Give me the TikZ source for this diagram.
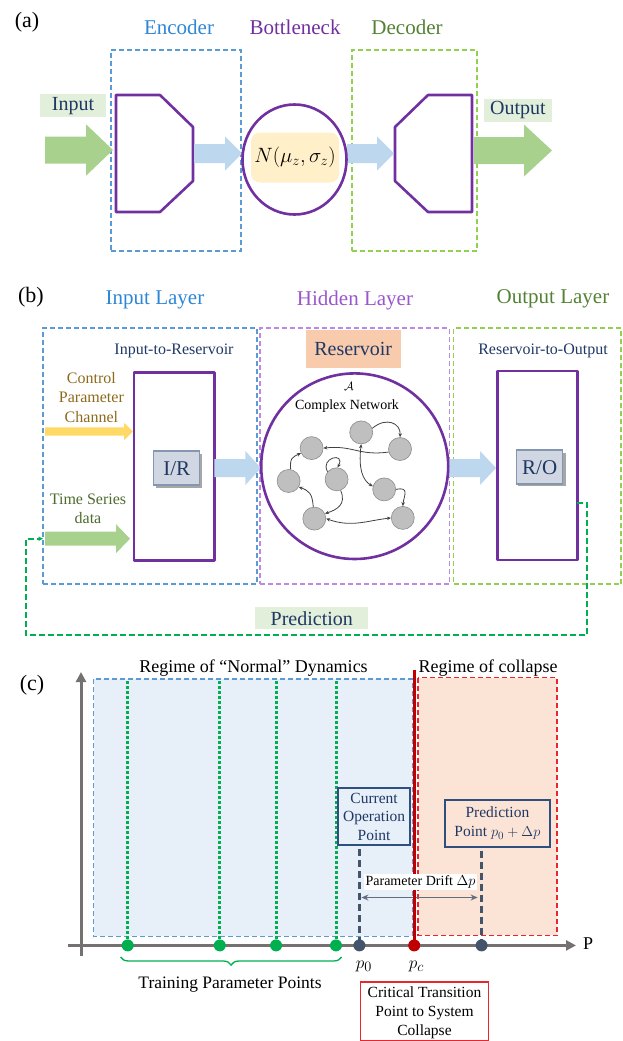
\documentclass[tikz,border=0pt]{standalone}
\usepackage{fontspec}
\setmainfont{Liberation Serif}
\usetikzlibrary{arrows.meta,decorations.pathreplacing,calc}
\definecolor{tBlue}{HTML}{2E86D6}
\definecolor{dBlue}{HTML}{5B9BD5}
\definecolor{vPurple}{HTML}{7030A0}
\definecolor{hPurple}{HTML}{9A55D0}
\definecolor{dPurple}{HTML}{B98BE3}
\definecolor{tGreen}{HTML}{548235}
\definecolor{dGreen}{HTML}{92D050}
\definecolor{aGreen}{HTML}{A9D18E}
\definecolor{aBlue}{HTML}{BDD7EE}
\definecolor{lGreen}{HTML}{E2EFDA}
\definecolor{navy}{HTML}{1F3864}
\definecolor{lYellow}{HTML}{FFF0C9}
\definecolor{aYellow}{HTML}{FFD966}
\definecolor{gold}{HTML}{8C6A1C}
\definecolor{tsGreen}{HTML}{4E6B2E}
\definecolor{resOrange}{HTML}{F8CBAD}
\definecolor{irFill}{HTML}{D0D7E2}
\definecolor{irDraw}{HTML}{8497B0}
\definecolor{fbGreen}{HTML}{00B050}
\definecolor{axGrey}{HTML}{767171}
\definecolor{regBlue}{HTML}{E7EFF9}
\definecolor{regOrange}{HTML}{FBE4D5}
\definecolor{dRed}{HTML}{C00000}
\definecolor{rRed}{HTML}{E8262B}
\definecolor{slate}{HTML}{44546A}
\definecolor{boxBlue}{HTML}{2F4F7F}
\definecolor{nodeFill}{HTML}{BFBFBF}
\definecolor{nodeDraw}{HTML}{8C8C8C}
\newcommand\fatarrow[7]{\fill[#7] (#1,#4-#5) -- (#3,#4-#5) -- (#3,#4-#6) -- (#2,#4) -- (#3,#4+#6) -- (#3,#4+#5) -- (#1,#4+#5) -- cycle;}
\begin{document}
\begin{tikzpicture}[x=1pt,y=-1pt,
  title/.style={font=\fontsize{21}{24}\selectfont, inner sep=0pt},
  lab/.style={font=\fontsize{16}{18}\selectfont, inner sep=0pt, align=center},
  dashbox/.style={dash pattern=on 5pt off 3pt, line width=1.3pt},
  purpleline/.style={draw=vPurple, line width=2.6pt, line join=round},
  netnode/.style={circle, fill=nodeFill, draw=nodeDraw, line width=0.6pt, minimum size=23pt, inner sep=0pt},
  net/.style={draw=black!75, line width=0.8pt, -{Stealth[length=4pt,width=3.5pt]}},
  netboth/.style={draw=black!75, line width=0.8pt, {Stealth[length=4pt,width=3.5pt]}-{Stealth[length=4pt,width=3.5pt]}},
  smallbox/.style={fill=irFill, draw=irDraw, line width=1.5pt, minimum width=46pt, minimum height=34pt, font=\fontsize{21}{24}\selectfont, text=navy},
  greenlab/.style={fill=lGreen, text=navy, inner sep=0pt},
  tick/.style={circle, inner sep=0pt, minimum size=12pt}
]
\useasboundingbox (0,0) rectangle (622,1041);

%%%%%%%%%%%%%%%% (a)
\node[title, font=\fontsize{22}{24}\selectfont] (la) at (27,22) {(a)};
\node[title, text=tBlue] (encT) at (179,27) {Encoder};
\node[title, text=vPurple] (botT) at (295,27) {Bottleneck};
\node[title, text=tGreen] (decT) at (407,27) {Decoder};

\node[draw=dBlue, dashbox, minimum width=130pt, minimum height=201pt, inner sep=0pt] (encbox) at (176,150.5) {};
\node[draw=dGreen, dashbox, minimum width=125pt, minimum height=201pt, inner sep=0pt] (decbox) at (414.5,150.5) {};

\draw[purpleline] (116,95) -- (160,95) -- (193,127) -- (193,181) -- (160,212) -- (116,212) -- cycle;
\draw[purpleline] (428,95) -- (472,95) -- (472,212) -- (428,212) -- (395,181) -- (395,127) -- cycle;

\fatarrow{45}{113}{86}{150}{13.5}{25.7}{aGreen}
\fatarrow{194}{242}{225}{153.5}{9.5}{17}{aBlue}
\fatarrow{347}{394}{377}{153.5}{9.5}{17}{aBlue}
\fatarrow{474}{552}{524}{150.5}{13.5}{26}{aGreen}

\draw[purpleline] (294.5,159.5) ellipse [x radius=52, y radius=55];
\node[fill=lYellow, rounded corners=9pt, minimum width=88pt, minimum height=50pt, inner sep=0pt] (nbox) at (295,157.5) {};
\node[font=\fontsize{20}{22}\selectfont] (ntext) at (295,157.5) {$N(\mu_z,\sigma_z)$};

\node[greenlab, minimum width=66pt, minimum height=22.5pt] (inL) at (73,105.7) {};
\node[font=\fontsize{20}{22}\selectfont, text=navy] at (inL) {Input};
\node[greenlab, minimum width=68pt, minimum height=23pt] (outL) at (518,110.5) {};
\node[font=\fontsize{20}{22}\selectfont, text=navy] at (outL) {Output};

%%%%%%%%%%%%%%%% (b)
\node[title, font=\fontsize{22}{24}\selectfont] (lb) at (31,297) {(b)};
\node[title, text=tBlue] (inLayer) at (155,300) {Input Layer};
\node[title, text=hPurple] (hidLayer) at (355,300) {Hidden Layer};
\node[title, text=tGreen] (outLayer) at (553,299) {Output Layer};

\node[draw=dBlue, dashbox, minimum width=214pt, minimum height=256pt, inner sep=0pt] (inbox) at (150,456) {};
\node[draw=dPurple, dashbox, minimum width=189.5pt, minimum height=256pt, inner sep=0pt] (hidbox) at (354.8,456) {};
\node[draw=dGreen, dashbox, minimum width=167.5pt, minimum height=256pt, inner sep=0pt] (outbox) at (537.3,456) {};

\node[lab, text=navy] (i2r) at (174,351) {Input-to-Reservoir};
\node[lab, text=navy] (r2o) at (543,351) {Reservoir-to-Output};
\node[fill=resOrange, minimum width=95pt, minimum height=38pt, inner sep=0pt] (resbox) at (353.2,348.5) {};
\node[font=\fontsize{20}{22}\selectfont, text=navy] at (resbox) {Reservoir};

\draw[purpleline] (133.8,372.6) rectangle (214.4,560.5);
\fill[black!35] (156,453.5) rectangle (202,487.5);
\node[smallbox] (ir) at (176.7,468.2) {I/R};

\draw[purpleline] (497.2,371) rectangle (577.4,559.8);
\fill[black!35] (518,452.5) rectangle (565.5,486);
\node[smallbox] (ro) at (539.7,467.2) {R/O};

\node[lab, text=gold] (cpc) at (91.4,397.5) {Control\\[1.3pt]Parameter\\[1.3pt]Channel};
\fatarrow{45}{133}{124}{431.5}{4.2}{8.7}{aYellow}
\node[lab, text=tsGreen] (tsd) at (88,509) {Time Series\\[1.3pt]data};
\fatarrow{45}{130}{116}{538.7}{7}{14.5}{aGreen}

\fatarrow{214.4}{261}{245.3}{468}{9}{17}{aBlue}
\fatarrow{448.4}{496}{480}{468}{9}{17}{aBlue}

\draw[draw=vPurple, line width=2.6pt] (354.7,466.2) ellipse [x radius=93.5, y radius=92.8];
\node[font=\fontsize{13}{14}\selectfont] (calA) at (349,386.5) {$\mathcal{A}$};
\node[font=\fontsize{14}{16}\selectfont] (cn) at (347,406.5) {Complex Network};

\node[netnode] (n1) at (311.6,448.1) {};
\node[netnode] (n2) at (361.2,432.4) {};
\node[netnode] (n3) at (400,449) {};
\node[netnode] (n4) at (288.6,481) {};
\node[netnode] (n5) at (336.6,479.3) {};
\node[netnode] (n6) at (384.2,489.4) {};
\node[netnode] (n7) at (314.3,518.6) {};
\node[netnode] (n8) at (402.8,517.9) {};

\draw[net] (n2.20) .. controls +(14,-12) and +(1,-14) .. (n3.north);
\draw[net] (n3.195) .. controls +(-30,4) and +(30,-3) .. (n1.east);
\draw[net] (n4.80) .. controls +(-1,-12) and +(-8,4) .. (n1.205);
\draw[net] (n5.140) .. controls +(-8,-14) and +(8,-16) .. (n5.85);
\draw[netboth] (n2.270) .. controls +(-3,25) and +(-10,-6) .. (n6.165);
\draw[net] (n6.east) .. controls +(14,-3) and +(1,-10) .. (n8.north);
\draw[net] (n5.290) .. controls +(6,14) and +(12,-4) .. (n7.25);
\draw[net] (n7.95) .. controls +(-1,-14) and +(10,4) .. (n4.330);
\draw[netboth] (n7.east) .. controls +(25,9) and +(-25,3) .. (n8.west);

\node[greenlab, minimum width=113pt, minimum height=22pt] (predL) at (311.8,618.4) {};
\node[font=\fontsize{20}{22}\selectfont, text=navy] at (predL) {Prediction};

\coordinate (fbS) at (577.4,503);
\coordinate (fbE) at (43.5,538.7);
\draw[fbGreen, line width=2pt, dash pattern=on 6pt off 3pt, -{Latex[length=5pt,width=5pt]}]
  (fbS) -| (587.3,635) -| (26,538.7) -- (fbE);

%%%%%%%%%%%%%%%% (c)
\node[title, font=\fontsize{22}{24}\selectfont] (lc) at (32,685) {(c)};

\fill[regBlue] (93.6,679.1) rectangle (412.2,936.3);
\draw[dBlue, dashbox] (93.6,679.1) rectangle (412.2,936.3);
\fill[regOrange] (418,677.8) rectangle (557,935.3);
\draw[rRed, dashbox] (418,677.8) rectangle (557,935.3);

\node[font=\fontsize{18}{20}\selectfont, inner sep=0pt] (regN) at (253.5,668) {Regime of “Normal” Dynamics};
\node[font=\fontsize{18}{20}\selectfont, inner sep=0pt] (regC) at (488,668) {Regime of collapse};

\coordinate (ytop) at (81,672);
\coordinate (ybot) at (81,956);
\coordinate (xl) at (68,945.4);
\coordinate (xr) at (576,945.4);
\draw[axGrey, line width=3pt, -{Triangle[length=10pt,width=10pt]}] (ybot) -- (ytop);
\draw[axGrey, line width=3pt, -{Triangle[length=10pt,width=10pt]}] (xl) -- (xr);
\node[font=\fontsize{18}{20}\selectfont, inner sep=0pt] (P) at (588,944) {P};

\foreach \x/\n in {127.7/t1, 219.8/t2, 276.1/t3, 336/t4}{
  \node[tick, fill=fbGreen] (\n) at (\x,945.4) {};
  \draw[fbGreen, line width=3pt, dash pattern=on 2.6pt off 2.4pt] (\x,681) -- (\n.north);
}

\node[tick, fill=slate] (p0) at (359.4,945.4) {};
\node[tick, fill=slate] (pp) at (481.6,945.4) {};

\node[draw=boxBlue, line width=1.5pt, minimum width=72pt, minimum height=57pt, inner sep=0pt] (cur) at (374.1,816.6) {};
\node[lab, text=navy, font=\fontsize{15.5}{18.5}\selectfont] at (cur) {Current\\Operation\\Point};
\node[draw=boxBlue, line width=1.5pt, minimum width=105pt, minimum height=47pt, inner sep=0pt] (pred) at (497.4,823.4) {};
\node[lab, text=navy, font=\fontsize{15.5}{19}\selectfont] at (pred) {Prediction\\Point $p_0+\Delta p$};

\draw[slate, line width=2.8pt, dash pattern=on 7pt off 4pt] (359.4,849.3) -- (p0.center);
\draw[slate, line width=2.8pt, dash pattern=on 7pt off 4pt] (481.6,850.5) -- (pp.center);
\coordinate (dA) at (361.4,897.5);
\coordinate (dB) at (477.6,897.5);
\draw[slate!85, line width=1.3pt, {Stealth[length=7pt,width=6pt]}-{Stealth[length=7pt,width=6pt]}] (dA) -- (dB);

\draw[dRed, line width=3pt] (414.2,670) -- (414.2,945.4);
\node[tick, fill=dRed] (pc) at (414.2,945.4) {};

\node[fill=white, inner sep=1.5pt, font=\fontsize{14}{16}\selectfont] (drift) at (420.5,882) {Parameter Drift $\Delta p$};

\draw[fbGreen, line width=1.3pt, decorate, decoration={brace, amplitude=8pt}] (341.6,957) -- (120.6,957);
\node[font=\fontsize{17.5}{20}\selectfont, inner sep=0pt] (tpp) at (230,985) {Training Parameter Points};

\node[font=\fontsize{19}{20}\selectfont] (p0L) at (364,966.6) {$p_0$};
\node[font=\fontsize{19}{20}\selectfont] (pcL) at (416.5,966.6) {$p_c$};

\draw[rRed, line width=1.4pt] (360.6,982) rectangle (488.3,1040.3);
\node[lab, font=\fontsize{15.5}{18.8}\selectfont] (crit) at (424.5,1013) {Critical Transition\\Point to System\\Collapse};
\end{tikzpicture}
\end{document}
